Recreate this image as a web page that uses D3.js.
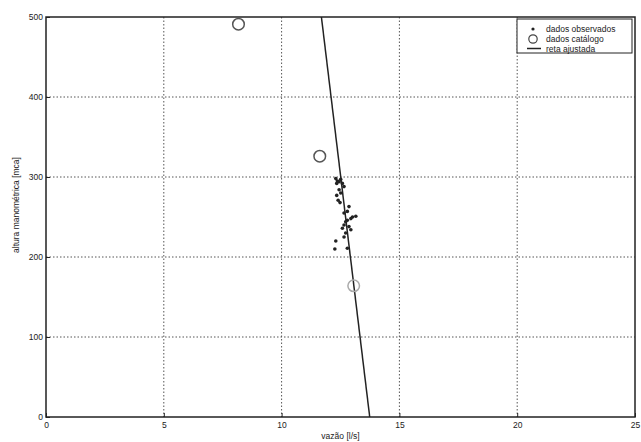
<!DOCTYPE html>
<html><head><meta charset="utf-8">
<script src="https://cdn.jsdelivr.net/npm/d3@7"></script>
<style>body{margin:0;background:#fff}svg{display:block}text{font-family:"Liberation Sans",Arial,sans-serif;fill:#222}</style>
</head><body><svg id="c" width="641" height="442"></svg>
<script>
// observed data (vazão l/s, altura mca)
const obsX = [12.30,12.37,12.44,12.34,12.51,12.58,12.65,12.44,12.51,12.34,12.40,12.48,12.65,12.79,12.86,12.94,13.01,13.15,12.79,12.72,12.65,12.58,12.86,12.94,12.72,12.65,12.30,12.26,12.79];
const obsY = [298,295,294,292,297,292,288,284,280,277,271,268,255,257,263,248,250,251,246,244,240,236,238,234,230,225,220,210,211];
// catalogue data
const catX = [8.17, 11.62, 13.06];
const catY = [491, 326, 164];
const catFaint = [false, false, true];
// fitted line
const retaX = [11.69, 13.74];
const retaY = [500, 0];
const xTicks = [0,5,10,15,20,25];
const yTicks = [0,100,200,300,400,500];
const legendLabels = ["dados observados","dados catálogo","reta ajustada"];

const svg = d3.select("#c");
const L=46, R=635, T=17, B=417;
const x = d3.scaleLinear().domain([0,25]).range([L,R]);
const y = d3.scaleLinear().domain([0,500]).range([B,T]);
const ink="#222";

// grid
svg.append("g").selectAll("line").data(xTicks.slice(1,-1)).join("line")
  .attr("x1",d=>x(d)).attr("x2",d=>x(d)).attr("y1",T).attr("y2",B)
  .attr("stroke","#555").attr("stroke-width",1).attr("stroke-dasharray","1.5,2");
svg.append("g").selectAll("line").data(yTicks.slice(1,-1)).join("line")
  .attr("y1",d=>y(d)).attr("y2",d=>y(d)).attr("x1",L).attr("x2",R)
  .attr("stroke","#555").attr("stroke-width",1).attr("stroke-dasharray","1.5,2");

// axes
const xa = svg.append("g").attr("transform",`translate(0,${B})`)
  .call(d3.axisBottom(x).tickValues(xTicks).tickSize(-4).tickPadding(6).tickFormat(d3.format("d")));
const ya = svg.append("g").attr("transform",`translate(${L},0)`)
  .call(d3.axisLeft(y).tickValues(yTicks).tickSize(-4).tickPadding(3).tickFormat(d3.format("d")));
[xa,ya].forEach(a=>{a.select(".domain").remove();a.selectAll("line").attr("stroke",ink);
  a.selectAll("text").attr("font-size",8.5).attr("fill",ink).attr("font-family","Liberation Sans, Arial, sans-serif");});
xa.selectAll(".tick text").attr("dy","0.55em");

// frame
svg.append("rect").attr("x",L).attr("y",T).attr("width",R-L).attr("height",B-T)
  .attr("fill","none").attr("stroke",ink).attr("stroke-width",1.5);

// fitted line
svg.append("line").attr("x1",x(retaX[0])).attr("y1",y(retaY[0])).attr("x2",x(retaX[1])).attr("y2",y(retaY[1]))
  .attr("stroke",ink).attr("stroke-width",1.5);

// observed
svg.append("g").selectAll("circle").data(obsX.map((v,i)=>[v,obsY[i]])).join("circle")
  .attr("cx",d=>x(d[0])).attr("cy",d=>y(d[1])).attr("r",1.8).attr("fill",ink);

// catalogue
svg.append("g").selectAll("circle").data(catX.map((v,i)=>[v,catY[i],catFaint[i]])).join("circle")
  .attr("cx",d=>x(d[0])).attr("cy",d=>y(d[1])).attr("r",5.8).attr("fill","none")
  .attr("stroke",d=>d[2]?"#aaa":"#555").attr("stroke-width",1.5);

// labels
svg.append("text").attr("x",(L+R)/2).attr("y",439).attr("text-anchor","middle").attr("font-size",8.5).text("vazão [l/s]");
svg.append("text").attr("transform","translate(19,205) rotate(-90)").attr("text-anchor","middle").attr("font-size",8.5).text("altura manométrica [mca]");

// legend
const lg = svg.append("g");
lg.append("rect").attr("x",517).attr("y",19).attr("width",115).attr("height",34).attr("fill","#fff").attr("stroke",ink).attr("stroke-width",1);
const rows=[30,40,50];
lg.append("circle").attr("cx",533).attr("cy",rows[0]-1).attr("r",1.6).attr("fill",ink);
lg.append("circle").attr("cx",533).attr("cy",rows[1]-1).attr("r",4.2).attr("fill","none").attr("stroke","#444").attr("stroke-width",1.2);
lg.append("line").attr("x1",527).attr("x2",541).attr("y1",rows[2]-1.5).attr("y2",rows[2]-1.5).attr("stroke",ink).attr("stroke-width",1.5);
lg.selectAll("text").data(legendLabels).join("text").attr("x",546).attr("y",(d,i)=>rows[i]+1.5).attr("font-size",8.5).text(d=>d);
</script></body></html>
